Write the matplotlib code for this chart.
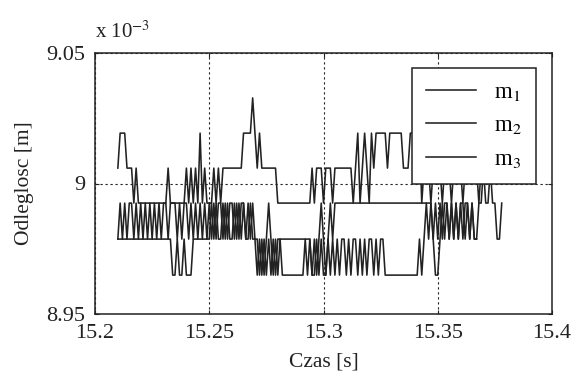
import matplotlib
matplotlib.use("Agg")
import matplotlib.pyplot as plt
import numpy as np

# quantised distance levels (x 1e-3 m)
LEVELS = [8.9649, 8.9787, 8.9925, 9.0059, 9.0193, 9.0328]

T0 = 15.210   # first sample [s]
DT = 0.001    # sampling step [s]

# level index of each sample
m1_idx = [3, 4, 4, 4, 3, 3, 3, 2, 3, 2,
          2, 2, 2, 2, 2, 2, 2, 2, 2, 2, 2, 2,
          3, 2, 2, 2, 2, 2, 2, 2, 3, 2, 3, 2, 3, 2, 4, 2, 3, 2,
          2, 2, 3, 2, 3, 2, 3, 3, 3, 3, 3, 3, 3, 3, 3, 4, 4, 4, 4, 5, 4, 3, 4,
          3, 3, 3, 3, 3, 3, 3,
          2, 2, 2, 2, 2, 2, 2, 2, 2, 2, 2, 2, 2, 2, 2,
          3, 2, 3, 3, 3, 2, 3, 3, 3, 2, 3, 3, 3, 3, 3, 3, 3, 3,
          2, 3, 4, 2, 3, 4, 3, 2, 4, 3, 4, 4, 4, 4, 4, 3, 4, 4, 4, 4, 4, 4, 3, 3, 3, 4, 4,
          4, 3, 4, 2, 3, 4, 3, 2, 3, 4, 3, 3, 2, 3, 4, 3, 2, 3, 3, 4, 3, 2, 3, 3, 4,
          3, 3, 3, 2, 3, 3, 3, 4, 3, 3]

m2_idx = [1, 2, 1, 2, 1, 2, 2, 1, 2, 1, 2, 1, 2, 1, 2, 1, 2, 1, 2, 1, 2, 2,
          1, 2, 2, 2, 1, 2, 1, 2, 2, 1, 2, 1, 2, 1, 2, 1, 2, 1,
          2, 1, 2, 1, 2, 2, 1, 2, 1, 2, 2, 1, 2, 1, 2, 2, 1, 2, 1, 2, 1,
          1, 0, 1, 0, 1, 2, 1, 0, 1, 0, 1,
          1, 1, 1, 1, 1, 1, 1, 1, 1, 1, 1, 1, 1,
          0, 1, 0, 1, 2, 1, 0, 1, 2, 1, 2, 2,
          2, 2, 2, 2, 2, 2, 2, 2, 2, 2, 2, 2, 2, 2, 2, 2, 2, 2, 2, 2,
          2, 2, 2, 2, 2, 2, 2, 2, 2, 2, 2, 2, 2, 2, 2, 2, 2, 2, 2, 2, 2,
          1, 2, 1, 2, 1, 2, 2, 1, 2, 1, 2, 1, 2, 2, 1, 2, 1, 2, 1, 1,
          2, 2, 3, 2, 2, 3, 2, 2, 1, 1, 2]

m3_idx = [1, 1, 1, 1, 1, 1, 1, 1, 1, 1, 1, 1, 1, 1, 1, 1, 1, 1, 1, 1, 1, 1, 1,
          1, 0, 0, 1, 0, 0, 1, 0, 0, 0, 1,
          1, 1, 1, 1, 1, 1, 1,
          2, 1, 2, 1, 1, 2, 1, 2, 1, 1, 2, 1, 2, 1, 2, 1, 1, 2, 1, 1,
          0, 1, 0, 1, 0, 1, 0, 1, 0, 1, 1, 0,
          0, 0, 0, 0, 0, 0, 0, 0, 0,
          1, 0, 1, 0, 0, 1,
          0, 1, 0, 0, 1, 0, 1, 0, 1, 0,
          1, 1, 0, 1, 0, 1, 1, 0, 1, 0, 1, 0, 1, 1, 0, 1, 0, 1, 1, 0,
          0, 0, 0, 0, 0, 0, 0, 0, 0, 0, 0, 0, 0, 0,
          1, 0, 1, 2, 1, 2, 1, 0, 0, 1, 2, 1, 2, 1, 2, 1, 2, 1, 2, 1, 2, 2,
          1, 2, 1, 1]

series_names = ["m$_1$", "m$_2$", "m$_3$"]
xticks = [15.2, 15.25, 15.3, 15.35, 15.4]
xticklabels = ["15.2", "15.25", "15.3", "15.35", "15.4"]
yticks = [8.95, 9.0, 9.05]
yticklabels = ["8.95", "9", "9.05"]

plt.rcParams["font.family"] = ["Liberation Serif", "DejaVu Serif"]
plt.rcParams["mathtext.fontset"] = "stix"

fig = plt.figure(figsize=(5.77, 3.78), dpi=100)
W, H = 577, 378
ax = fig.add_axes([95 / W, 1 - 314 / H, (552 - 95) / W, (314 - 53) / H])

ink = "#222222"
for idx, name in zip([m1_idx, m2_idx, m3_idx], series_names):
    t = T0 + DT * np.arange(len(idx))
    y = [LEVELS[i] for i in idx]
    ax.plot(t, y, color=ink, lw=1.15, label=name, zorder=2)

ax.set_xlim(15.2, 15.4)
ax.set_ylim(8.95, 9.05)
ax.set_xticks(xticks)
ax.set_xticklabels(xticklabels)
ax.set_yticks(yticks)
ax.set_yticklabels(yticklabels)
ax.tick_params(direction="in", length=3, width=0.8, labelsize=16,
               top=True, right=True, colors=ink)
ax.tick_params(axis="x", pad=7)
ax.tick_params(axis="y", pad=7)
for s in ax.spines.values():
    s.set_linewidth(1.1)
    s.set_color(ink)

ax.grid(True, color=ink, linestyle=(0, (2, 2.5)), linewidth=0.8)

ax.set_xlabel("Czas [s]", fontsize=15.5, color=ink, labelpad=7)
ax.set_ylabel("Odleglosc [m]", fontsize=15.5, color=ink, labelpad=9)

fig.text(95 / W, 1 - 38 / H, "x 10$^{-3}$", fontsize=15, color=ink,
         ha="left", va="baseline")

leg = ax.legend(loc="upper right", bbox_to_anchor=(0.965, 0.943),
                fontsize=16.5, frameon=True, fancybox=False, framealpha=1,
                edgecolor=ink, borderpad=0.6, labelspacing=0.55,
                handlelength=2.2, handletextpad=0.8, borderaxespad=0)
leg.get_frame().set_linewidth(1.1)
leg.set_zorder(5)

fig.savefig("out.png", dpi=100, facecolor="white")
